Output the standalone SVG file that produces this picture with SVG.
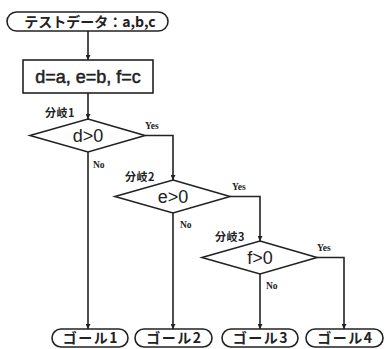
<svg xmlns="http://www.w3.org/2000/svg" width="385" height="349" viewBox="0 0 385 349">
<defs>
<marker id="ah" viewBox="0 0 8 8" refX="8" refY="4" markerWidth="5" markerHeight="5" orient="auto" markerUnits="userSpaceOnUse"><path d="M0,0 L8,4 L0,8 z" fill="#222"/></marker>
<style>
.s{fill:#fff;stroke:#222;stroke-width:1.6}
.c{fill:none;stroke:#222;stroke-width:1.6;marker-end:url(#ah)}
.jp{font-family:"Noto Sans CJK JP","Liberation Sans",sans-serif;font-weight:bold;fill:#222}
.cond{font-family:"Liberation Sans",sans-serif;font-size:18px;fill:#222;text-anchor:middle}
.yn{font-family:"Liberation Serif",serif;font-weight:bold;font-size:9.5px;fill:#222}
.br{font-family:"Noto Sans CJK JP","Liberation Sans",sans-serif;font-weight:bold;font-size:11px;fill:#222;letter-spacing:0.5px}
.g{font-size:14px;text-anchor:middle;letter-spacing:1.5px}
</style>
</defs>
<rect width="385" height="349" fill="#fff"/>
<g id="connectors">
<line class="c" x1="88" y1="31" x2="88" y2="60"/>
<line class="c" x1="88" y1="93" x2="88" y2="119"/>
<line class="c" x1="88" y1="152" x2="88" y2="329"/>
<polyline class="c" points="145,135.5 173,135.5 173,180"/>
<line class="c" x1="173" y1="213" x2="173" y2="329"/>
<polyline class="c" points="230,196.5 260,196.5 260,241"/>
<line class="c" x1="260" y1="274" x2="260" y2="329"/>
<polyline class="c" points="317,257.5 344,257.5 344,329"/>
<text class="yn" x="145" y="129">Yes</text>
<text class="yn" x="93" y="168">No</text>
<text class="yn" x="232" y="190">Yes</text>
<text class="yn" x="180" y="228">No</text>
<text class="yn" x="317" y="251">Yes</text>
<text class="yn" x="266" y="289">No</text>
</g>
<g id="start">
<rect class="s" x="7" y="12" width="161" height="19" rx="9.5"/>
<text class="jp" x="90" y="26.5" font-size="14" text-anchor="middle">テストデータ：a,b,c</text>
</g>
<g id="assign">
<rect class="s" x="23" y="60" width="130" height="33"/>
<text class="cond" x="88" y="83" stroke="#222" stroke-width="0.5">d=a, e=b, f=c</text>
</g>
<g id="branch1">
<polygon class="s" points="88,119 145,135.5 88,152 30,135.5"/>
<text class="cond" x="88" y="142">d&gt;0</text>
<text class="br" x="45" y="117">分岐1</text>
</g>
<g id="branch2">
<polygon class="s" points="173,180 230,196.5 173,213 115,196.5"/>
<text class="cond" x="173" y="203">e&gt;0</text>
<text class="br" x="125" y="181">分岐2</text>
</g>
<g id="branch3">
<polygon class="s" points="260,241 317,257.5 260,274 202,257.5"/>
<text class="cond" x="260" y="264">f&gt;0</text>
<text class="br" x="215" y="241">分岐3</text>
</g>
<g id="goal1">
<rect class="s" x="52" y="329" width="76" height="18" rx="9"/>
<text class="jp g" x="91" y="343">ゴール1</text>
</g>
<g id="goal2">
<rect class="s" x="135" y="329" width="77" height="18" rx="9"/>
<text class="jp g" x="174.5" y="343">ゴール2</text>
</g>
<g id="goal3">
<rect class="s" x="222" y="329" width="76" height="18" rx="9"/>
<text class="jp g" x="261" y="343">ゴール3</text>
</g>
<g id="goal4">
<rect class="s" x="306" y="329" width="77" height="18" rx="9"/>
<text class="jp g" x="345.5" y="343">ゴール4</text>
</g>
</svg>
